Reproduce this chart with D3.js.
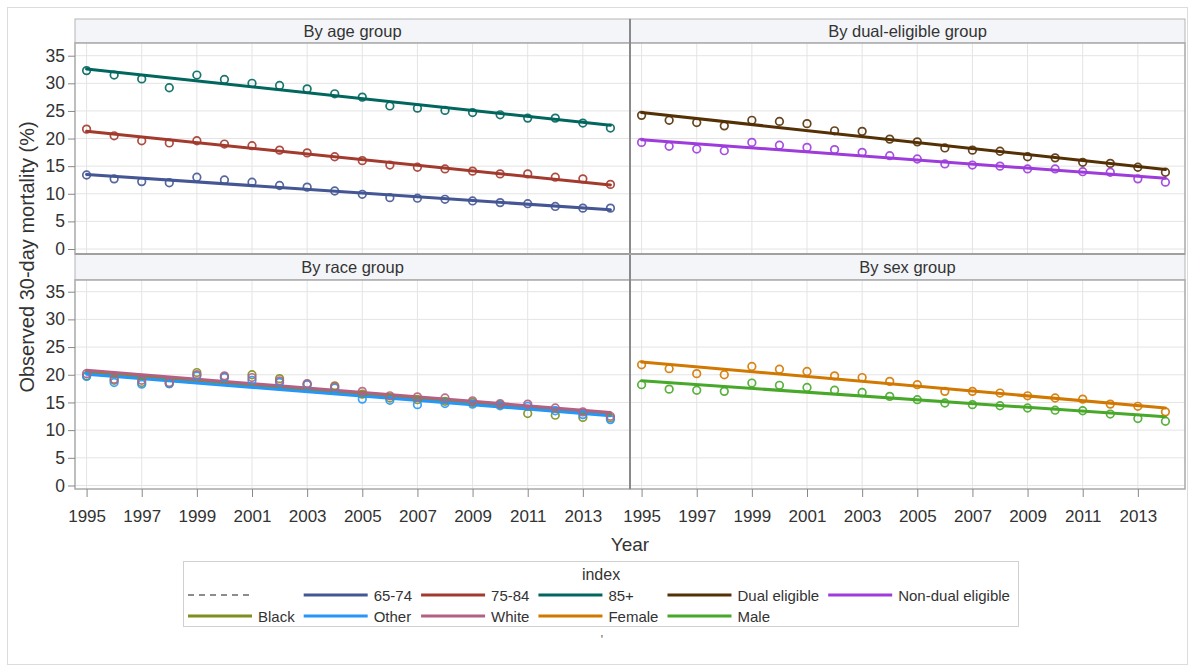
<!DOCTYPE html>
<html>
<head>
<meta charset="utf-8">
<script src="https://cdn.jsdelivr.net/npm/d3@7"></script>
<style>
  html, body { margin: 0; padding: 0; background: #fff; }
  svg { display: block; font-family: "Liberation Sans", Arial, sans-serif; }
</style>
</head>
<body>
<svg id="chart" width="1188" height="667"></svg>
<script>
// Years on the x axis and the axis tick labels
const years = [1995, 1996, 1997, 1998, 1999, 2000, 2001, 2002, 2003, 2004,
               2005, 2006, 2007, 2008, 2009, 2010, 2011, 2012, 2013, 2014];
const xTicks = [1995, 1997, 1999, 2001, 2003, 2005, 2007, 2009, 2011, 2013];
const yTicks = [0, 5, 10, 15, 20, 25, 30, 35];

// Observed 30-day mortality (%) by year
const age6574 = [13.4, 12.7, 12.2, 12.0, 13.0, 12.5, 12.1, 11.5, 11.2, 10.5,
                 9.9, 9.3, 9.2, 9.0, 8.7, 8.4, 8.2, 7.7, 7.4, 7.4];
const age7584 = [21.7, 20.5, 19.6, 19.2, 19.6, 19.0, 18.7, 17.9, 17.4, 16.7,
                 16.0, 15.2, 14.8, 14.5, 14.1, 13.6, 13.6, 13.0, 12.7, 11.7];
const age85   = [32.3, 31.5, 30.8, 29.2, 31.5, 30.7, 30.0, 29.6, 29.0, 28.1,
                 27.5, 25.9, 25.5, 25.1, 24.7, 24.3, 23.7, 23.7, 22.8, 21.9];
const dualElig = [24.2, 23.3, 22.9, 22.3, 23.3, 23.1, 22.7, 21.4, 21.3, 19.9,
                  19.4, 18.3, 17.9, 17.7, 16.7, 16.5, 15.7, 15.5, 14.8, 13.9];
const nonDual  = [19.3, 18.6, 18.1, 17.8, 19.3, 18.8, 18.4, 18.0, 17.5, 16.9,
                  16.3, 15.4, 15.2, 15.0, 14.5, 14.5, 14.0, 13.9, 12.7, 12.1];
const raceBlack = [19.8, 19.0, 18.6, 18.4, 20.4, 19.6, 20.0, 19.3, 18.3, 18.0,
                   16.5, 15.8, 15.5, 15.2, 15.0, 14.6, 13.0, 12.7, 12.3, 12.2];
const raceOther = [19.7, 18.6, 18.3, 18.4, 19.8, 19.5, 19.0, 18.6, 18.2, 17.6,
                   15.6, 15.4, 14.6, 14.8, 14.7, 14.4, 14.3, 13.5, 12.8, 11.9];
const raceWhite = [20.2, 19.2, 19.0, 18.6, 20.0, 19.8, 19.5, 18.9, 18.4, 17.8,
                   17.0, 16.2, 16.0, 15.8, 15.3, 14.8, 14.7, 14.0, 13.3, 12.5];
const sexFemale = [21.8, 21.1, 20.2, 20.0, 21.5, 21.0, 20.6, 19.8, 19.5, 18.8,
                   18.2, 17.0, 17.0, 16.7, 16.2, 15.8, 15.6, 14.7, 14.3, 13.3];
const sexMale   = [18.2, 17.4, 17.2, 17.0, 18.5, 18.1, 17.7, 17.2, 16.8, 16.1,
                   15.5, 14.9, 14.6, 14.4, 14.0, 13.6, 13.5, 12.9, 12.1, 11.6];

// Fitted trend values at 1995 and 2014
const fit6574 = [13.5, 7.1];
const fit7584 = [21.3, 11.6];
const fit85   = [32.6, 22.4];
const fitDual = [24.7, 14.4];
const fitNonDual = [19.8, 12.8];
const fitBlack = [20.5, 12.9];
const fitOther = [20.1, 12.6];
const fitWhite = [20.8, 13.2];
const fitFemale = [22.3, 14.0];
const fitMale = [18.9, 12.4];

const panelTitles = ["By age group", "By dual-eligible group", "By race group", "By sex group"];

// Group labels, first row then second row of the legend
const legendRow1 = ["", "65-74", "75-84", "85+", "Dual eligible", "Non-dual eligible"];
const legendRow2 = ["Black", "Other", "White", "Female", "Male"];

const colors = {
  "65-74": "#445694", "75-84": "#A23A2E", "85+": "#01665E",
  "Dual eligible": "#543005", "Non-dual eligible": "#9D3CDB",
  "Black": "#7F8E1F", "Other": "#2597FA", "White": "#B26084",
  "Female": "#D17800", "Male": "#47A82A"
};

const panelSeries = [
  [["65-74", age6574, fit6574], ["75-84", age7584, fit7584], ["85+", age85, fit85]],
  [["Dual eligible", dualElig, fitDual], ["Non-dual eligible", nonDual, fitNonDual]],
  [["Black", raceBlack, fitBlack], ["Other", raceOther, fitOther], ["White", raceWhite, fitWhite]],
  [["Female", sexFemale, fitFemale], ["Male", sexMale, fitMale]]
];

const svg = d3.select("#chart");
const textColor = "#333";

// outer frame
svg.append("rect").attr("x", 7.5).attr("y", 7.5).attr("width", 1180).attr("height", 657)
  .attr("fill", "#fff").attr("stroke", "#dcdcdc");

// panel geometry
const colX = [75, 630];
const panelW = 555;
const rows = [
  { headY: 19, headH: 24, plotY: 43, plotH: 211, y0: 206, y35: 12.7 },
  { headY: 254, headH: 26, plotY: 280, plotH: 209, y0: 205.5, y35: 11.7 }
];

const x = d3.scaleLinear().domain([1994.58, 2014.71]).range([0, panelW]);

panelTitles.forEach((title, i) => {
  const r = rows[Math.floor(i / 2)];
  const c = i % 2;
  const y = d3.scaleLinear().domain([0, 35]).range([r.y0, r.y35]);

  // header strip
  const head = svg.append("g").attr("transform", `translate(${colX[c]},${r.headY})`);
  head.append("rect").attr("width", panelW).attr("height", r.headH)
    .attr("fill", "#f3f5f9").attr("stroke", "#b5b5b5");
  head.append("text").attr("x", panelW / 2).attr("y", r.headH / 2 + 6)
    .attr("text-anchor", "middle").attr("font-size", 16.5).attr("fill", textColor).text(title);

  const g = svg.append("g").attr("transform", `translate(${colX[c]},${r.plotY})`);
  g.append("rect").attr("width", panelW).attr("height", r.plotH).attr("fill", "#fff");

  // grid
  g.selectAll(".hg").data(yTicks).join("line")
    .attr("x1", 0).attr("x2", panelW)
    .attr("y1", d => y(d)).attr("y2", d => y(d))
    .attr("stroke", "#e4e4e4").attr("stroke-width", 1);
  g.selectAll(".vg").data(xTicks).join("line")
    .attr("x1", d => x(d)).attr("x2", d => x(d))
    .attr("y1", 0).attr("y2", r.plotH)
    .attr("stroke", "#e4e4e4").attr("stroke-width", 1);

  // fitted lines and observed points
  panelSeries[i].forEach(([name, vals, fit]) => {
    g.append("line")
      .attr("x1", x(years[0])).attr("y1", y(fit[0]))
      .attr("x2", x(years[years.length - 1])).attr("y2", y(fit[1]))
      .attr("stroke", colors[name]).attr("stroke-width", 3).attr("stroke-linecap", "round");
  });
  panelSeries[i].forEach(([name, vals]) => {
    g.selectAll(null).data(vals).join("circle")
      .attr("cx", (d, k) => x(years[k])).attr("cy", d => y(d)).attr("r", 3.8)
      .attr("fill", "none").attr("stroke", colors[name]).attr("stroke-width", 1.7)
      .attr("opacity", 0.9);
  });

  // frame
  g.append("rect").attr("width", panelW).attr("height", r.plotH)
    .attr("fill", "none").attr("stroke", "#a9a9a9").attr("stroke-width", 1.5);

  // y axis on the left column
  if (c === 0) {
    const ya = g.append("g").call(d3.axisLeft(y).tickValues(yTicks).tickSize(7).tickPadding(3));
    ya.select(".domain").remove();
    ya.selectAll("line").attr("stroke", "#888");
    ya.selectAll("text").attr("font-size", 17.5).attr("fill", textColor)
      .attr("font-family", "Liberation Sans, Arial, sans-serif");
  }
  // x axis on the bottom row
  if (i >= 2) {
    const xa = g.append("g").attr("transform", `translate(0,${r.plotH})`)
      .call(d3.axisBottom(x).tickValues(xTicks).tickFormat(d3.format("d")).tickSize(8).tickPadding(13));
    xa.select(".domain").remove();
    xa.selectAll("line").attr("stroke", "#888");
    xa.selectAll("text").attr("font-size", 17).attr("fill", textColor)
      .attr("font-family", "Liberation Sans, Arial, sans-serif");
  }
});

// divider between the two columns
svg.append("line").attr("x1", 630).attr("x2", 630).attr("y1", 19).attr("y2", 489)
  .attr("stroke", "#8a8a8a").attr("stroke-width", 2);
svg.append("line").attr("x1", 75).attr("x2", 1185).attr("y1", 254).attr("y2", 254)
  .attr("stroke", "#a0a0a0").attr("stroke-width", 2);

// axis titles
svg.append("text").attr("x", 630).attr("y", 551).attr("text-anchor", "middle")
  .attr("font-size", 19).attr("fill", textColor).text("Year");
svg.append("text").attr("transform", "translate(34,257) rotate(-90)")
  .attr("text-anchor", "middle").attr("font-size", 20).attr("fill", textColor)
  .text("Observed 30-day mortality (%)");

// legend
const leg = svg.append("g");
leg.append("rect").attr("x", 183.5).attr("y", 561.5).attr("width", 835).attr("height", 65)
  .attr("fill", "#fff").attr("stroke", "#d0d0d0");
leg.append("text").attr("x", 601).attr("y", 580).attr("text-anchor", "middle")
  .attr("font-size", 16).attr("fill", textColor).text("index");

const lineLen = 64, rowY = [595, 616];
let colStart = 188;
legendRow1.forEach((lab1, k) => {
  const lab2 = legendRow2[k];
  const labX = colStart + lineLen + 6;
  // first row
  if (k === 0) {
    leg.append("line").attr("x1", colStart).attr("x2", colStart + lineLen)
      .attr("y1", rowY[0]).attr("y2", rowY[0])
      .attr("stroke", "#8c8c8c").attr("stroke-width", 2).attr("stroke-dasharray", "6,5");
  } else {
    leg.append("line").attr("x1", colStart).attr("x2", colStart + lineLen)
      .attr("y1", rowY[0]).attr("y2", rowY[0])
      .attr("stroke", colors[lab1]).attr("stroke-width", 3);
  }
  const t1 = leg.append("text").attr("x", labX).attr("y", rowY[0] + 5.5)
    .attr("font-size", 15).attr("fill", textColor).text(lab1);
  let w = t1.node().getComputedTextLength();
  if (lab2 !== undefined) {
    leg.append("line").attr("x1", colStart).attr("x2", colStart + lineLen)
      .attr("y1", rowY[1]).attr("y2", rowY[1])
      .attr("stroke", colors[lab2]).attr("stroke-width", 3);
    const t2 = leg.append("text").attr("x", labX).attr("y", rowY[1] + 5.5)
      .attr("font-size", 15).attr("fill", textColor).text(lab2);
    w = Math.max(w, t2.node().getComputedTextLength());
  }
  colStart = labX + w + 9;
});

svg.append("text").attr("x", 602).attr("y", 644).attr("text-anchor", "middle")
  .attr("font-size", 12).attr("fill", "#555").text("'");
</script>
</body>
</html>
